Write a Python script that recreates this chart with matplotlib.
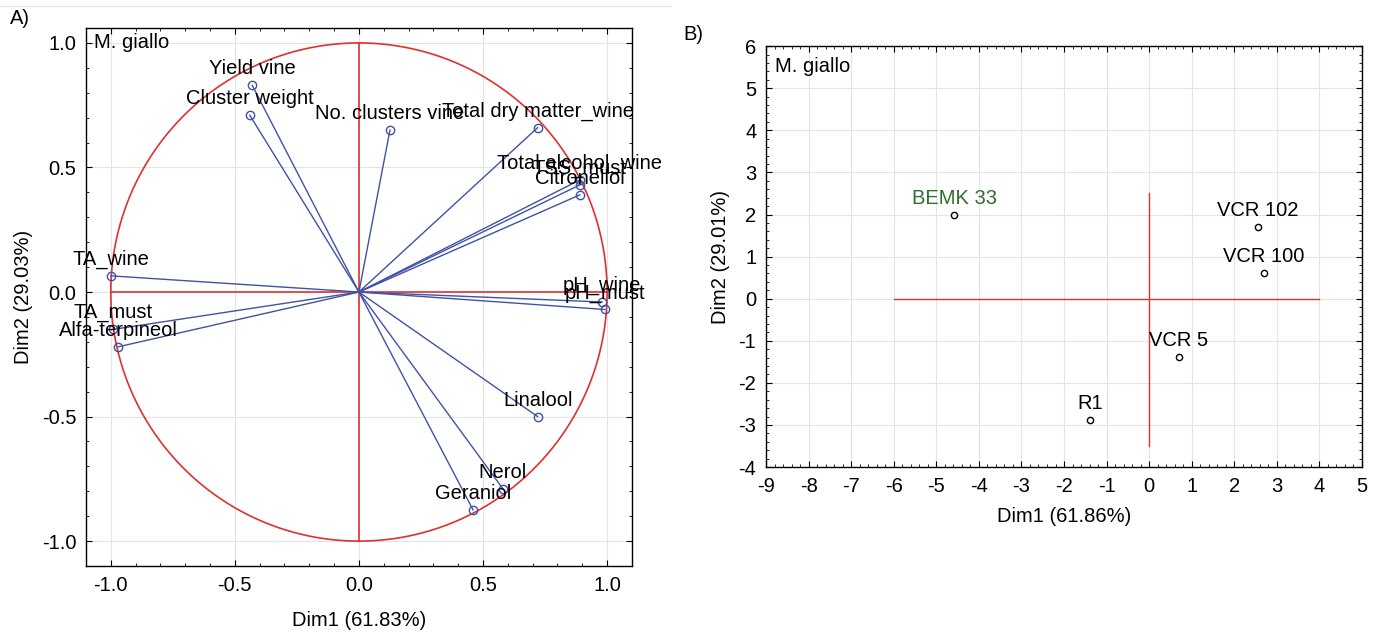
import numpy as np
import matplotlib.pyplot as plt
from matplotlib.ticker import MultipleLocator, FuncFormatter
from matplotlib.lines import Line2D

plt.rcParams['font.family'] = ['Liberation Sans', 'DejaVu Sans']

# loadings (A)
var_names = ['Yield vine', 'Cluster weight', 'No. clusters vine', 'Total dry matter_wine',
             'Total alcohol_wine', 'TSS_must', 'Citronellol', 'pH_wine', 'pH_must',
             'TA_wine', 'TA_must', 'Alfa-terpineol', 'Linalool', 'Nerol', 'Geraniol']
dim1_load = [-0.43, -0.44, 0.125, 0.72, 0.89, 0.89, 0.89, 0.98, 0.99,
             -1.0, -0.99, -0.97, 0.72, 0.58, 0.46]
dim2_load = [0.83, 0.71, 0.65, 0.66, 0.45, 0.43, 0.39, -0.04, -0.07,
             0.065, -0.15, -0.22, -0.50, -0.79, -0.875]

# scores (B)
obs_names = ['BEMK 33', 'VCR 102', 'VCR 100', 'VCR 5', 'R1']
dim1_score = [-4.58, 2.55, 2.70, 0.69, -1.39]
dim2_score = [1.99, 1.70, 0.60, -1.38, -2.89]
obs_colors = ['#2e6e2e', 'black', 'black', 'black', 'black']

red = '#e0302f'
blue = '#4152a6'
fs = 14.5

fig = plt.figure(figsize=(13.84, 6.32), dpi=100)

# ---- A) correlation circle
ax1 = fig.add_axes([0.0621, 0.1044, 0.3945, 0.8513])
t = np.linspace(0, 2 * np.pi, 400)
ax1.plot(np.cos(t), np.sin(t), color=red, lw=1.2, zorder=2)
ax1.plot([-1, 1], [0, 0], color=red, lw=1.2, zorder=2)
ax1.plot([0, 0], [-1, 1], color=red, lw=1.2, zorder=2)
for name, x, y in zip(var_names, dim1_load, dim2_load):
    ax1.plot([0, x], [0, y], color=blue, lw=1.0, zorder=3)
    ax1.plot(x, y, 'o', mfc='none', mec=blue, ms=6, mew=1.0, zorder=4)
    ax1.annotate(name, (x, y), xytext=(0, 5), textcoords='offset points',
                 ha='center', va='bottom', fontsize=fs, zorder=5)
ax1.set_xlim(-1.1, 1.1)
ax1.set_ylim(-1.1, 1.06)
ax1.xaxis.set_major_locator(MultipleLocator(0.5))
ax1.yaxis.set_major_locator(MultipleLocator(0.5))
ax1.xaxis.set_minor_locator(MultipleLocator(0.1))
ax1.yaxis.set_minor_locator(MultipleLocator(0.1))
ax1.xaxis.set_major_formatter(FuncFormatter(lambda v, p: f'{v:.1f}'))
ax1.yaxis.set_major_formatter(FuncFormatter(lambda v, p: f'{v:.1f}'))
ax1.grid(True, color='#e4e4e4', lw=0.8, zorder=0)
ax1.set_xlabel('Dim1 (61.83%)', fontsize=fs, labelpad=12)
ax1.set_ylabel('Dim2 (29.03%)', fontsize=fs, labelpad=6)
ax1.text(0.015, 0.99, 'M. giallo', transform=ax1.transAxes, ha='left', va='top', fontsize=fs)

# ---- B) scores
ax2 = fig.add_axes([0.5535, 0.261, 0.4306, 0.666])
ax2.plot([-6, 4], [0, 0], color=red, lw=1.0, zorder=2)
ax2.plot([0, 0], [-3.5, 2.5], color=red, lw=1.0, zorder=2)
for name, x, y, c in zip(obs_names, dim1_score, dim2_score, obs_colors):
    ax2.plot(x, y, 'o', mfc='none', mec='black', ms=4.5, mew=1.0, zorder=4)
    ax2.annotate(name, (x, y), xytext=(0, 5), textcoords='offset points',
                 ha='center', va='bottom', fontsize=fs, color=c, zorder=5)
ax2.set_xlim(-9, 5)
ax2.set_ylim(-4, 6)
ax2.xaxis.set_major_locator(MultipleLocator(1))
ax2.yaxis.set_major_locator(MultipleLocator(1))
ax2.xaxis.set_minor_locator(MultipleLocator(0.2))
ax2.yaxis.set_minor_locator(MultipleLocator(0.2))
ax2.xaxis.set_major_formatter(FuncFormatter(lambda v, p: f'{v:.0f}'))
ax2.yaxis.set_major_formatter(FuncFormatter(lambda v, p: f'{v:.0f}'))
ax2.grid(True, color='#e4e4e4', lw=0.8, zorder=0)
ax2.set_xlabel('Dim1 (61.86%)', fontsize=fs, labelpad=8)
ax2.set_ylabel('Dim2 (29.01%)', fontsize=fs, labelpad=6)
ax2.text(0.015, 0.975, 'M. giallo', transform=ax2.transAxes, ha='left', va='top', fontsize=fs)

for ax in (ax1, ax2):
    ax.tick_params(which='both', direction='in', top=True, right=True,
                   labelsize=fs, pad=7)
    ax.tick_params(which='major', length=4)
    ax.tick_params(which='minor', length=2)
    for s in ax.spines.values():
        s.set_linewidth(1.0)

fig.text(0.007, 0.985, 'A)', fontsize=fs, ha='left', va='top')
fig.text(0.494, 0.96, 'B)', fontsize=fs, ha='left', va='top')
fig.add_artist(Line2D([0.0, 0.485], [0.99, 0.99], color='#e8e8e8', lw=1.0))

fig.savefig('out.png', dpi=100)
